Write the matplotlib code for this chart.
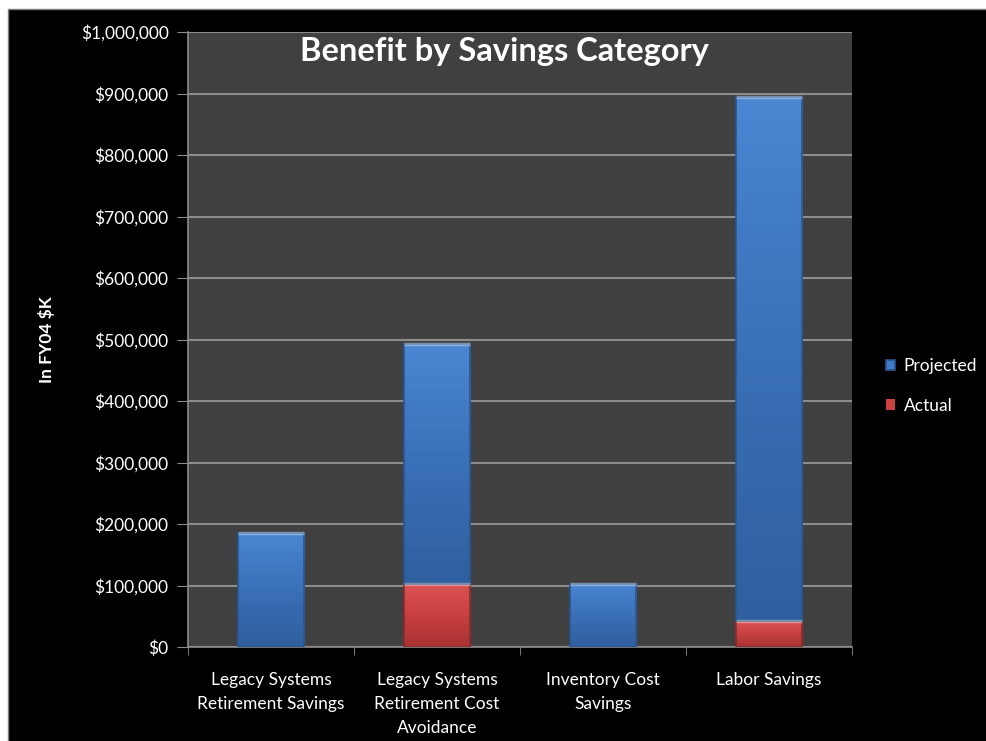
import matplotlib.pyplot as plt
import numpy as np
from matplotlib.patches import Rectangle
from matplotlib.lines import Line2D
from matplotlib.ticker import FuncFormatter
from matplotlib.colors import LinearSegmentedColormap

plt.rcParams['font.family'] = ['Lato', 'DejaVu Sans']

# savings data (FY04 $K)
categories = ['Legacy Systems\nRetirement Savings',
              'Legacy Systems\nRetirement Cost\nAvoidance',
              'Inventory Cost\nSavings',
              'Labor Savings']
actual = [0, 103000, 0, 42000]
projected = [186000, 389000, 103000, 853000]

fig = plt.figure(figsize=(9.87, 7.41), dpi=100, facecolor='white')
# black chart area, grey border on the visible left/top edges
bx, by = 8 / 987, 1 - 9 / 741
fig.patches.append(Rectangle((bx, 0), 1, by, transform=fig.transFigure,
                             facecolor='black', edgecolor='none', zorder=-5))
fig.lines.append(Line2D([bx, bx, 1], [0, by, by], transform=fig.transFigure,
                        color='#7f7f7f', lw=1, zorder=-4))

ax = fig.add_axes([188 / 987, 1 - 647 / 741, (852 - 188) / 987, (647 - 32) / 741])
ax.set_facecolor('#404040')

x = np.arange(len(categories))
w = 0.4
blue_cm = LinearSegmentedColormap.from_list('b', ['#2f5f9e', '#3a70b8', '#4a86d2'])
red_cm = LinearSegmentedColormap.from_list('r', ['#a83232', '#c84040', '#dc5252'])

def shade(bars, cmap, edge):
    for b in bars:
        if b.get_height() <= 0:
            continue
        x0, y0 = b.get_x(), b.get_y()
        x1, y1 = x0 + b.get_width(), y0 + b.get_height()
        grad = np.linspace(0, 1, 64).reshape(-1, 1)
        im = ax.imshow(grad, cmap=cmap, aspect='auto', origin='lower',
                       extent=[x0, x1, y0, y1], zorder=3)
        im.set_clip_path(b)
        b.set_facecolor('none')
        b.set_edgecolor(edge)
        b.set_linewidth(1.2)
        b.set_zorder(4)
        # light bevel at the top edge
        ax.plot([x0, x1], [y1, y1], color='white', alpha=0.35, lw=2.5,
                zorder=5, solid_capstyle='butt')

b_act = ax.bar(x, actual, w, color='#c84040', label='Actual', zorder=3)
b_proj = ax.bar(x, projected, w, bottom=actual, color='#3f7bc8', label='Projected', zorder=3)
shade(b_act, red_cm, '#8a2a2a')
shade(b_proj, blue_cm, '#2a5590')

ax.set_xlim(-0.5, len(categories) - 0.5)
ax.set_ylim(0, 1000000)
ax.set_yticks(np.arange(0, 1000001, 100000))
ax.yaxis.set_major_formatter(FuncFormatter(lambda v, p: '${:,.0f}'.format(v)))
ax.grid(axis='y', color='#8c8c8c', linewidth=1.5, zorder=1)
ax.set_axisbelow(True)

ax.set_xticks(x)
ax.set_xticklabels(categories, linespacing=1.6)
ax.set_xticks(np.arange(-0.5, len(categories)), minor=True)
ax.tick_params(axis='x', which='major', length=0, pad=18, colors='white', labelsize=12.5)
ax.tick_params(axis='x', which='minor', length=6, direction='out', color='#8c8c8c')
ax.tick_params(axis='y', length=8, direction='out', color='#8c8c8c', labelcolor='white',
               labelsize=12.5, pad=6)

for s in ['top', 'right']:
    ax.spines[s].set_visible(False)
for s in ['left', 'bottom']:
    ax.spines[s].set_color('#8c8c8c')
    ax.spines[s].set_linewidth(1.2)

fig.text(504 / 987, 1 - 52 / 741, 'Benefit by Savings Category', color='white',
         fontsize=23.5, fontweight='bold', ha='center', va='center')
fig.text(47 / 987, 1 - 340 / 741, 'In FY04 $K', color='white', fontsize=12.5,
         fontweight='bold', rotation=90, ha='center', va='center')

h, l = ax.get_legend_handles_labels()
leg = fig.legend(h[::-1], l[::-1], loc='center left', bbox_to_anchor=(870 / 987, 1 - 386 / 741),
                 frameon=False, fontsize=12.5, labelcolor='white', handlelength=0.55,
                 handleheight=0.55, handletextpad=0.5, labelspacing=1.35)
leg.legend_handles[0].set_facecolor('#3f7bc8')
leg.legend_handles[1].set_facecolor('#c84040')

fig.savefig('out.png', dpi=100, facecolor='white')
